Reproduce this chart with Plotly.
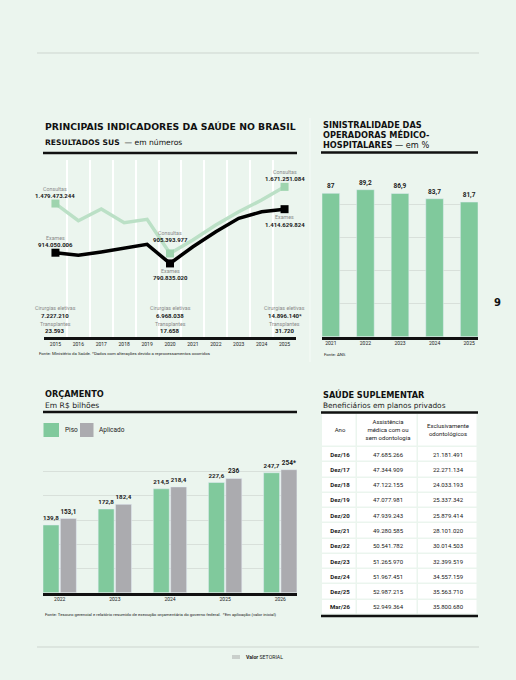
import plotly.graph_objects as go

# --- data ---
anos_sus = [2015, 2016, 2017, 2018, 2019, 2020, 2021, 2022, 2023, 2024, 2025]
consultas = [1479473244, 1282000000, 1416000000, 1259000000, 1298000000, 905393977,
             1060000000, 1232000000, 1385000000, 1520000000, 1671251084]
exames = [914050006, 884000000, 922000000, 968000000, 1010000000, 790835020,
          983000000, 1155000000, 1309000000, 1385000000, 1414629824]
anos_cir = [2015, 2020, 2025]
cirurgias = ['7.227.210', '6.968.038', '14.896.140*']
transplantes = ['23.593', '17.658', '31.720']

anos_sin = ['2021', '2022', '2023', '2024', '2025']
sinistralidade = [87, 89.2, 86.9, 83.7, 81.7]

anos_orc = ['2022', '2023', '2024', '2025', '2026']
piso = [139.8, 172.8, 214.5, 227.6, 247.7]
aplicado = [153.1, 182.4, 218.4, 236, 254]

tab_cab = ['Ano', 'Assistência<br>médica com ou<br>sem odontologia', 'Exclusivamente<br>odontológicos']
tab_ano = ['Dez/16', 'Dez/17', 'Dez/18', 'Dez/19', 'Dez/20', 'Dez/21',
           'Dez/22', 'Dez/23', 'Dez/24', 'Dez/25', 'Mar/26']
tab_medica = [47685266, 47344909, 47122155, 47077981, 47939243, 49280585,
              50541782, 51265970, 51967451, 52987215, 52949364]
tab_odonto = [21181491, 22271134, 24033193, 25337342, 25879414, 28101020,
              30014503, 32399519, 34557159, 35563710, 35800680]

BG = '#EBF5EE'
VERDE = '#80C99C'
VERDE_CLARO = '#BBE0C6'
CINZA = '#ABABAF'
W, H = 516, 680
FONT = 'Roboto'
TIT = 'DejaVu Sans'


def fx(x):
    return x / W


def fy(y):
    return 1 - y / H


def br(v):
    return f'{v:,}'.replace(',', '.')


def dec(v):
    return f'{v:g}'.replace('.', ',')


fig = go.Figure()

# --- line chart: resultados SUS ---
fig.add_trace(go.Scatter(x=anos_sus, y=consultas, mode='lines',
                         line=dict(color=VERDE_CLARO, width=3.5), xaxis='x', yaxis='y'))
fig.add_trace(go.Scatter(x=anos_sus, y=exames, mode='lines',
                         line=dict(color='black', width=3.5), xaxis='x', yaxis='y'))
idx = [0, 5, 10]
fig.add_trace(go.Scatter(x=[anos_sus[i] for i in idx], y=[consultas[i] for i in idx], mode='markers',
                         marker=dict(symbol='square', size=8, color='#9ED4AE'), xaxis='x', yaxis='y'))
fig.add_trace(go.Scatter(x=[anos_sus[i] for i in idx], y=[exames[i] for i in idx], mode='markers',
                         marker=dict(symbol='square', size=8, color='black'), xaxis='x', yaxis='y'))

# --- sinistralidade ---
lbl = dict(size=6.5, color='#222', family=FONT, weight='bold')
fig.add_trace(go.Bar(x=anos_sin, y=sinistralidade, marker_color=VERDE, width=0.51,
                     text=[dec(v) for v in sinistralidade], textposition='outside',
                     textfont=lbl, cliponaxis=False, xaxis='x2', yaxis='y2'))

# --- orcamento ---
txt_ap = [dec(v) for v in aplicado]
txt_ap[-1] += '*'
fig.add_trace(go.Bar(x=anos_orc, y=piso, marker_color=VERDE, width=0.29, offset=-0.303,
                     text=[dec(v) for v in piso], textposition='outside',
                     textfont=lbl, cliponaxis=False, xaxis='x3', yaxis='y3'))
fig.add_trace(go.Bar(x=anos_orc, y=aplicado, marker_color=CINZA, width=0.29, offset=0.012,
                     text=txt_ap, textposition='outside',
                     textfont=lbl, cliponaxis=False, xaxis='x3', yaxis='y3'))

# --- tabela (celulas brancas com vao) ---
alturas = [33] + [15.3] * len(tab_ano)
y_bordas = [0]
for a in alturas:
    y_bordas.append(y_bordas[-1] + a)
textos = [tab_cab] + [['<b>%s</b>' % a, br(m), br(o)] for a, m, o in zip(tab_ano, tab_medica, tab_odonto)]
fig.add_trace(go.Heatmap(
    z=[[1, 1, 1] for _ in textos], x=[0, 35, 96, 156], y=y_bordas,
    text=textos, texttemplate='%{text}', textfont=dict(size=6, color='#1a1a1a', family=FONT),
    colorscale=[[0, 'white'], [1, 'white']], showscale=False, xgap=1.5, ygap=1.5,
    hoverinfo='skip', xaxis='x4', yaxis='y4'))

anns = []


def txt(x, y, s, size=6, color='#222', family=FONT, xanchor='left', **kw):
    anns.append(dict(x=x, y=y, xref='paper', yref='paper', text=s, showarrow=False,
                     xanchor=xanchor, yanchor='middle', font=dict(size=size, color=color, family=family), **kw))


# titulos
txt(fx(43), fy(126), '<b>PRINCIPAIS INDICADORES DA SAÚDE NO BRASIL</b>', size=9.3, color='#111', family=TIT)
txt(fx(43), fy(142), '<b>RESULTADOS SUS</b>  — em números', size=7.6, color='#111', family=TIT)
for i, s in enumerate(['<b>SINISTRALIDADE DAS</b>', '<b>OPERADORAS MÉDICO-</b>',
                       '<b>HOSPITALARES</b> — em %']):
    txt(fx(321), fy(125 + 10 * i), s, size=8.2, color='#111', family=TIT)
txt(fx(43), fy(394), '<b>ORÇAMENTO</b>', size=8.2, color='#111', family=TIT)
txt(fx(43), fy(405), 'Em R$ bilhões', size=7.6, color='#222', family=TIT)
txt(fx(321), fy(394), '<b>SAÚDE SUPLEMENTAR</b>', size=8.2, color='#111', family=TIT)
txt(fx(321), fy(405), 'Beneficiários em planos privados', size=7.4, color='#222', family=TIT)

# legenda orcamento
txt(fx(63), fy(430), 'Piso', size=6.5)
txt(fx(97), fy(430), 'Aplicado', size=6.5)

# fontes
txt(fx(37), fy(353), 'Fonte: Ministério da Saúde. *Dados com alterações devido a reprocessamentos ocorridos', size=4.3)
txt(fx(322), fy(354), 'Fonte: ANS', size=4.3)
txt(fx(43), fy(614), 'Fonte: Tesouro gerencial e relatório resumido de execução orçamentária do governo federal.  '
    '*Em aplicação (valor inicial)', size=4.3)

# pagina e rodape
txt(fx(497), fy(302), '<b>9</b>', size=10, color='#111', family=TIT, xanchor='center')
txt(fx(244), fy(657), '<b>Valor</b> SETORIAL', size=5.2, color='#222', xanchor='left')


def rotulo(ano, val, nome, valtxt, dy_nome, dy_val):
    anns.append(dict(x=ano, y=val, xref='x', yref='y', text=nome, showarrow=False, yshift=dy_nome,
                     xanchor='center', yanchor='middle', font=dict(size=5.3, color='#8a8a8a', family=FONT)))
    anns.append(dict(x=ano, y=val, xref='x', yref='y', text='<b>%s</b>' % valtxt, showarrow=False,
                     yshift=dy_val, xanchor='center', yanchor='middle',
                     font=dict(size=6, color='#1a1a1a', family=FONT)))


rotulo(2015, consultas[0], 'Consultas', br(consultas[0]), 15, 8)
rotulo(2020, consultas[5], 'Consultas', br(consultas[5]), 20, 14)
rotulo(2025, consultas[10], 'Consultas', br(consultas[10]), 15, 8)
rotulo(2015, exames[0], 'Exames', br(exames[0]), 15, 8.5)
rotulo(2020, exames[5], 'Exames', br(exames[5]), -7.5, -14)
rotulo(2025, exames[10], 'Exames', br(exames[10]), -8, -15)

for a, c, t in zip(anos_cir, cirurgias, transplantes):
    for py, s, cor, b in [(308, 'Cirurgias eletivas', '#8a8a8a', False), (315, c, '#1a1a1a', True),
                          (323.5, 'Transplantes', '#8a8a8a', False), (330.5, t, '#1a1a1a', True)]:
        anns.append(dict(x=a, y=fy(py), xref='x', yref='paper', text='<b>%s</b>' % s if b else s,
                         showarrow=False, xanchor='center', yanchor='middle',
                         font=dict(size=6 if b else 5.3, color=cor, family=FONT)))

shapes = [
    dict(type='line', xref='paper', yref='paper', x0=fx(37), x1=fx(479), y0=fy(53), y1=fy(53),
         line=dict(color='#CDD5CF', width=1)),
    dict(type='line', xref='paper', yref='paper', x0=fx(37), x1=fx(479), y0=fy(647), y1=fy(647),
         line=dict(color='#CDD5CF', width=1)),
    dict(type='line', xref='paper', yref='paper', x0=fx(310), x1=fx(310), y0=fy(118), y1=fy(362),
         line=dict(color='#F6FBF7', width=1)),
    dict(type='rect', xref='paper', yref='paper', x0=fx(232), x1=fx(240), y0=fy(659), y1=fy(655),
         fillcolor='#C9CFCB', line_width=0),
    # regras pretas
    dict(type='line', xref='paper', yref='paper', x0=fx(43), x1=fx(297), y0=fy(153), y1=fy(153),
         line=dict(color='#111', width=2.5)),
    dict(type='line', xref='paper', yref='paper', x0=fx(321), x1=fx(478), y0=fy(152.5), y1=fy(152.5),
         line=dict(color='#111', width=2.5)),
    dict(type='line', xref='paper', yref='paper', x0=fx(43), x1=fx(297), y0=fy(412), y1=fy(412),
         line=dict(color='#111', width=2.5)),
    dict(type='line', xref='paper', yref='paper', x0=fx(321), x1=fx(478), y0=fy(412.5), y1=fy(412.5),
         line=dict(color='#111', width=2.5)),
    dict(type='line', xref='paper', yref='paper', x0=fx(321), x1=fx(478), y0=fy(616), y1=fy(616),
         line=dict(color='#111', width=2.5)),
    # legenda
    dict(type='rect', xref='paper', yref='paper', x0=fx(43.5), x1=fx(59), y0=fy(437), y1=fy(423),
         fillcolor=VERDE, line_width=0),
    dict(type='rect', xref='paper', yref='paper', x0=fx(80), x1=fx(93.5), y0=fy(437), y1=fy(423),
         fillcolor=CINZA, line_width=0),
]

oculto = dict(showgrid=False, showticklabels=False, zeroline=False, showline=False, ticks='')

fig.update_layout(
    width=W, height=H, margin=dict(l=0, r=0, t=0, b=0),
    paper_bgcolor=BG, plot_bgcolor=BG, showlegend=False,
    separators=',.', annotations=anns, shapes=shapes,
    font=dict(family=FONT, color='#222'),
    xaxis=dict(domain=[fx(44), fx(296)], range=[2014.5, 2025.5], anchor='y',
               tickvals=anos_sus, ticktext=[str(a) for a in anos_sus], showgrid=False,
               tickfont=dict(size=5, color='#222'), ticks='', showline=True, linecolor='#111', linewidth=2.5,
               minor=dict(tick0=2014.5, dtick=1, showgrid=True, gridcolor='white', gridwidth=1.5),
               zeroline=False),
    yaxis=dict(domain=[fy(337), fy(160)], range=[-55e6, 1980e6], anchor='x', **oculto),
    xaxis2=dict(domain=[fx(322), fx(478)], range=[-0.255, 4.255], anchor='y2', type='category',
                tickfont=dict(size=5, color='#222'), ticks='', showline=True, linecolor='#111', linewidth=2.5),
    yaxis2=dict(domain=[fy(336.7), fy(171.9)], range=[0, 100], dtick=20, anchor='x2',
                showgrid=True, gridcolor='#D8E0DA', gridwidth=1, showticklabels=False, zeroline=False),
    xaxis3=dict(domain=[fx(43), fx(297)], range=[-0.303, 4.303], anchor='y3', type='category',
                tickfont=dict(size=5, color='#222'), ticks='', showline=True, linecolor='#111', linewidth=2.5),
    yaxis3=dict(domain=[fy(592.7), fy(447.4)], range=[0, 300], dtick=50, anchor='x3',
                showgrid=True, gridcolor='#D8E0DA', gridwidth=1, showticklabels=False, zeroline=False),
    xaxis4=dict(domain=[fx(322), fx(478)], range=[0, 156], anchor='y4', **oculto),
    yaxis4=dict(domain=[fy(615), fy(414)], range=[y_bordas[-1], 0], anchor='x4', **oculto),
)

fig.write_html('out.html', config={'displayModeBar': False}, post_script=[
    "document.body.style.margin='0';document.body.style.overflow='hidden';"
    "document.body.style.background='%s';" % BG])
